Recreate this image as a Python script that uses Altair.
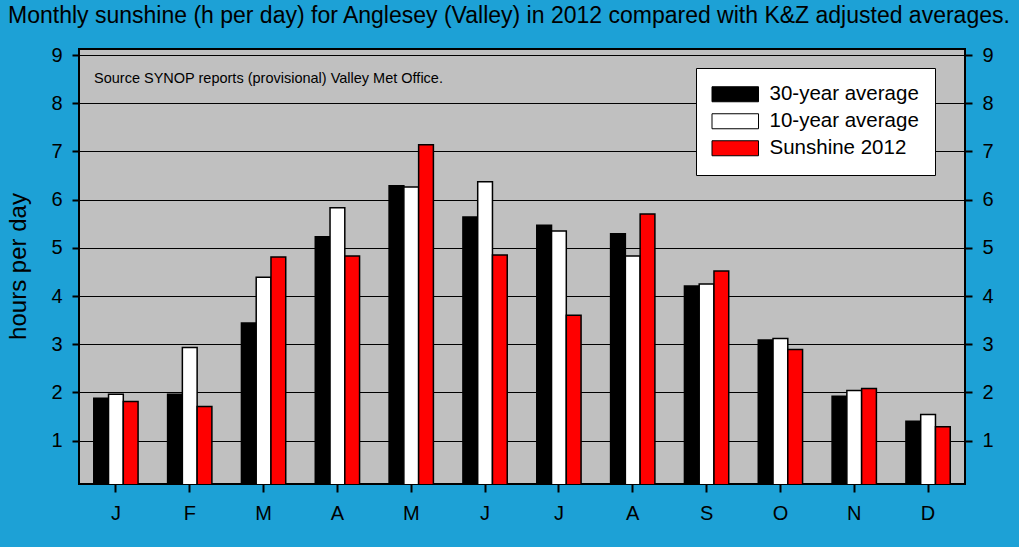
import altair as alt
import pandas as pd

months = ["Jan", "Feb", "Mar", "Apr", "May", "Jun", "Jul", "Aug", "Sep", "Oct", "Nov", "Dec"]
series = ["30-year average", "10-year average", "Sunshine 2012"]
avg30 = [1.88, 1.96, 3.44, 5.23, 6.29, 5.64, 5.47, 5.29, 4.21, 3.09, 1.92, 1.40]
avg10 = [1.96, 2.93, 4.39, 5.83, 6.26, 6.37, 5.35, 4.83, 4.25, 3.12, 2.04, 1.54]
sun2012 = [1.81, 1.71, 4.81, 4.83, 7.14, 4.85, 3.60, 5.70, 4.52, 2.89, 2.08, 1.29]
colors = ["#000000", "#ffffff", "#ff0000"]
y_ticks = [1, 2, 3, 4, 5, 6, 7, 8, 9]

title_text = "Monthly sunshine (h per day) for Anglesey (Valley) in 2012 compared with K&Z adjusted averages."
source_text = ["Source SYNOP reports (provisional) Valley Met Office."]

rows = []
for s, vals in zip(series, [avg30, avg10, sun2012]):
    for m, v in zip(months, vals):
        rows.append({"month": m, "series": s, "value": v, "base": 0})
df = pd.DataFrame(rows)
src_df = pd.DataFrame({"text": source_text})

FONT = "Liberation Sans"
BG = "#1DA1D6"

def x_enc():
    return alt.X(
        "month:N", sort=months,
        scale=alt.Scale(paddingInner=0.4, paddingOuter=0.2),
        axis=alt.Axis(title=None, labelExpr="substring(datum.label, 0, 1)", labelAngle=0,
                      labelFontSize=20, labelFont=FONT, labelColor="black", labelPadding=11,
                      tickSize=8, tickWidth=2, tickColor="black", domain=False, grid=False),
    )

x_off = alt.XOffset("series:N", sort=series, scale=alt.Scale(paddingInner=0, paddingOuter=0))

yscale = alt.Scale(domain=[0.1, 9.125], nice=False, zero=False)

bars = alt.Chart(df).mark_bar(clip=True, stroke="black", strokeWidth=1.5).encode(
    x=x_enc(),
    xOffset=x_off,
    y=alt.Y("value:Q", scale=yscale,
            axis=alt.Axis(orient="left", values=y_ticks, title="hours per day",
                          titleFontSize=24, titleFont=FONT, titleFontWeight="normal",
                          titleColor="black", titleAngle=-90, titleX=-61, titleY=217,
                          titleAlign="center", titleBaseline="middle",
                          labelFontSize=20, labelFont=FONT, labelColor="black", labelPadding=10,
                          tickSize=7, tickWidth=2, tickColor="black", domain=False,
                          grid=True, gridColor="black", gridWidth=1, gridOpacity=1)),
    y2="base:Q",
    color=alt.Color("series:N", sort=series,
                    scale=alt.Scale(domain=series, range=colors),
                    legend=alt.Legend(title=None, orient="none", legendX=617, legendY=19,
                                      fillColor="white", strokeColor="black", padding=16,
                                      symbolType="M-3.1,-1H3.1V1H-3.1Z", symbolSize=225,
                                      symbolStrokeColor="black", symbolStrokeWidth=1,
                                      symbolOffset=13, labelOffset=24, rowPadding=6,
                                      labelFontSize=20.5, labelFont=FONT, labelColor="black")),
)

right_axis = alt.Chart(df).mark_point(opacity=0).encode(
    x=x_enc(),
    y=alt.Y("value:Q", scale=yscale,
            axis=alt.Axis(orient="right", values=y_ticks, title=None,
                          labelFontSize=20, labelFont=FONT, labelColor="black", labelPadding=10,
                          tickSize=7, tickWidth=2, tickColor="black", domain=False, grid=False)),
)

source = alt.Chart(src_df).mark_text(align="left", baseline="middle", fontSize=14.5, font=FONT,
                                     color="black").encode(
    x=alt.value(15), y=alt.value(30), text="text:N"
)

chart = alt.layer(bars, right_axis, source).resolve_scale(y="independent").properties(
    width=886, height=435,
    autosize=alt.AutoSizeParams(type="none"),
    padding={"left": 79, "top": 49, "right": 54, "bottom": 63},
    background=BG,
    title=alt.Title(title_text, anchor="start", frame="group", fontSize=23, font=FONT,
                    fontWeight="normal", color="black", dx=-71, dy=27, offset=26,
                    baseline="alphabetic", limit=1015),
).configure_view(fill="#C0C0C0", stroke="black", strokeWidth=2)

chart.save("out.html", embed_options={"renderer": "svg", "actions": False})
